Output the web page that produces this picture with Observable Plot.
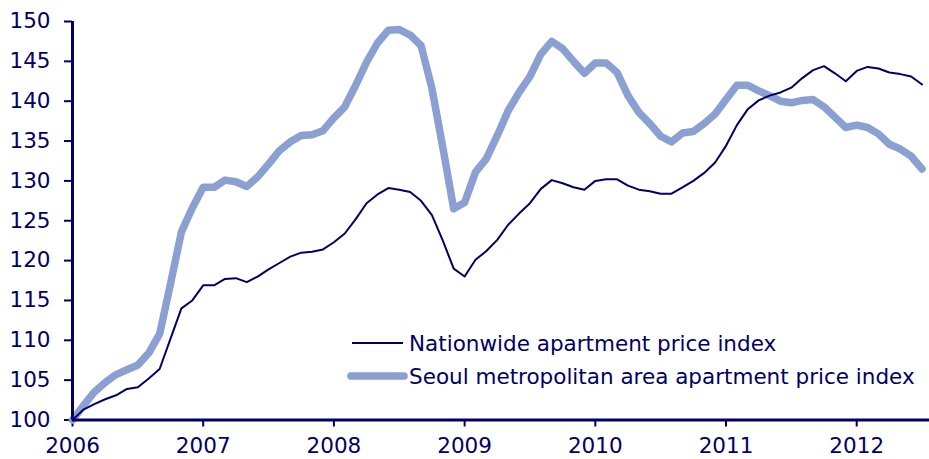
<!DOCTYPE html>
<html><head><meta charset="utf-8">
<script src="https://cdn.jsdelivr.net/npm/d3@7"></script>
<script src="https://cdn.jsdelivr.net/npm/@observablehq/plot@0.6"></script>
<style>
body{margin:0;background:#fff;}
#wrap{position:relative;width:929px;height:459px;}
#legend{position:absolute;left:0;top:0;pointer-events:none;}
</style></head>
<body><div id="wrap"></div>
<script>
// Monthly index, Jan 2006 = 100, Jan 2006 .. Jul 2012
const startYear = 2006;
const nationwide = [
  100.0, 101.3, 102.0, 102.6, 103.1, 103.9, 104.1, 105.2, 106.4, 110.2, 114.0, 115.0,
  116.9, 116.9, 117.7, 117.8, 117.3, 118.0, 118.9, 119.7, 120.5, 121.0, 121.1, 121.4,
  122.3, 123.4, 125.2, 127.2, 128.3, 129.1, 128.9, 128.6, 127.5, 125.7, 122.5, 119.0,
  118.0, 120.1, 121.2, 122.6, 124.5, 125.9, 127.2, 129.0, 130.1, 129.7, 129.2, 128.9,
  130.0, 130.2, 130.2, 129.4, 128.9, 128.7, 128.4, 128.4, 129.2, 130.0, 131.0, 132.3,
  134.4, 137.0, 139.0, 140.1, 140.7, 141.1, 141.7, 142.9, 143.9, 144.4, 143.5, 142.5,
  143.8, 144.3, 144.1, 143.6, 143.4, 143.1, 142.1
];
const seoul = [
  100.0, 101.8, 103.5, 104.7, 105.7, 106.3, 106.9, 108.4, 110.8, 117.1, 123.6, 126.6,
  129.2, 129.2, 130.1, 129.9, 129.3, 130.5, 132.1, 133.8, 134.9, 135.7, 135.8, 136.3,
  137.9, 139.3, 142.0, 144.9, 147.3, 148.9, 149.0, 148.3, 147.0, 141.6, 134.2, 126.5,
  127.3, 131.1, 132.8, 135.7, 138.8, 141.1, 143.1, 145.9, 147.5, 146.6, 145.0, 143.5,
  144.8, 144.8, 143.6, 140.7, 138.6, 137.2, 135.6, 134.9, 136.0, 136.2, 137.2, 138.4,
  140.2, 142.0, 142.0, 141.3, 140.7, 140.0, 139.8, 140.1, 140.2, 139.3, 138.0, 136.7,
  137.0, 136.7, 135.9, 134.6, 134.0, 133.1, 131.5
];
const seriesNames = [
  "Nationwide apartment price index",
  "Seoul metropolitan area apartment price index"
];
const yTicks = [100, 105, 110, 115, 120, 125, 130, 135, 140, 145, 150];
const xTicks = [2006, 2007, 2008, 2009, 2010, 2011, 2012];

const NAVY = "#000066";
const LIGHT = "#8a9fd2";
const FONT = "DejaVu Sans, Verdana, sans-serif";
const FS = 21.5;

const toRows = (vals, name) => vals.map((v, i) => ({t: startYear + i / 12, v, s: name}));
const natRows = toRows(nationwide, seriesNames[0]);
const seoRows = toRows(seoul, seriesNames[1]);

const chart = Plot.plot({
  width: 929,
  height: 459,
  marginLeft: 72,
  marginRight: 0,
  marginTop: 21,
  marginBottom: 39.5,
  style: {fontFamily: FONT, fontSize: FS + "px", color: NAVY, background: "#fff", overflow: "visible"},
  x: {domain: [2006, 2012.557], ticks: xTicks, tickFormat: d => String(d)},
  y: {domain: [100, 150], ticks: yTicks},
  marks: [
    Plot.axisX({ticks: xTicks, tickFormat: d => String(d), tickSize: 7, tickPadding: 11, stroke: NAVY, strokeWidth: 2, fill: NAVY, label: null, fontSize: FS}),
    Plot.axisY({ticks: yTicks, tickSize: 8, tickPadding: 14, stroke: NAVY, strokeWidth: 2, fill: NAVY, label: null, fontSize: FS}),
    Plot.line(seoRows, {x: "t", y: "v", stroke: LIGHT, strokeWidth: 7.5, strokeLinejoin: "round", strokeLinecap: "round"}),
    Plot.line(natRows, {x: "t", y: "v", stroke: NAVY, strokeWidth: 2, strokeLinejoin: "round"}),
    Plot.ruleX([2006], {stroke: NAVY, strokeWidth: 3}),
    Plot.ruleY([100], {stroke: NAVY, strokeWidth: 3})
  ]
});
document.getElementById("wrap").appendChild(chart);

// Legend overlay
const leg = d3.select("#wrap").append("svg")
  .attr("id", "legend").attr("width", 929).attr("height", 459)
  .style("font-family", FONT).style("font-size", FS + "px");
const legItems = [
  {name: seriesNames[0], color: NAVY, w: 2, x1: 352, x2: 403, y: 343},
  {name: seriesNames[1], color: LIGHT, w: 7.5, x1: 351, x2: 404, y: 376}
];
legItems.forEach(d => {
  leg.append("line").attr("x1", d.x1).attr("x2", d.x2).attr("y1", d.y).attr("y2", d.y)
    .attr("stroke", d.color).attr("stroke-width", d.w).attr("stroke-linecap", d.w > 3 ? "round" : "butt");
  leg.append("text").attr("x", 409).attr("y", d.y).attr("dy", "0.35em")
    .attr("fill", NAVY).text(d.name);
});
</script>
</body></html>
